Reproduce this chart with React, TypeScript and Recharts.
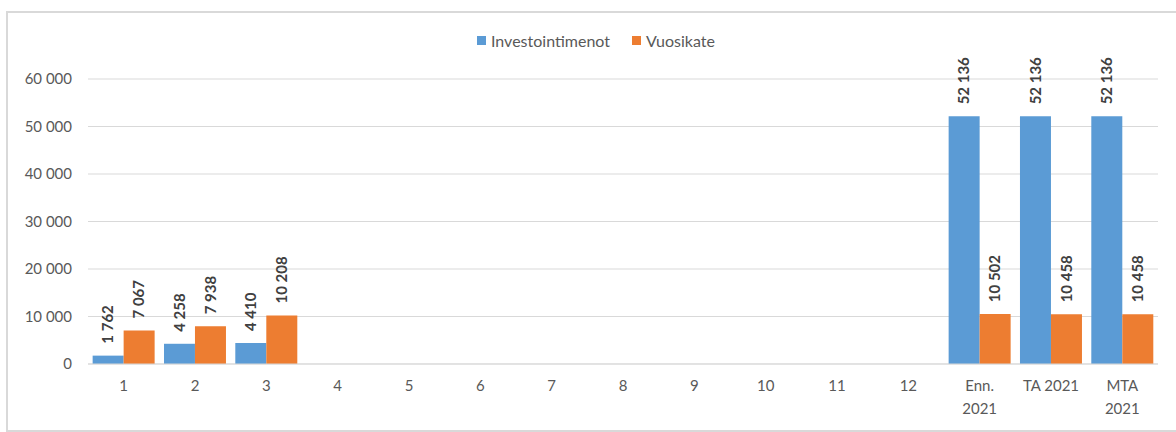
import { BarChart, Bar, XAxis, YAxis, CartesianGrid, Legend, LabelList } from 'recharts';

const categories = ['1', '2', '3', '4', '5', '6', '7', '8', '9', '10', '11', '12', 'Enn. 2021', 'TA 2021', 'MTA 2021'];
const investointimenot = [1762, 4258, 4410, null, null, null, null, null, null, null, null, null, 52136, 52136, 52136];
const vuosikate = [7067, 7938, 10208, null, null, null, null, null, null, null, null, null, 10502, 10458, 10458];
const yTicks = [0, 10000, 20000, 30000, 40000, 50000, 60000];

const data = categories.map((name, i) => ({
  name,
  investointimenot: investointimenot[i],
  vuosikate: vuosikate[i],
}));

const BLUE = '#5B9BD5';
const ORANGE = '#ED7D31';
const FONT = 'Lato, "Open Sans", sans-serif';

const fmt = (v: number) => String(v).replace(/\B(?=(\d{3})+(?!\d))/g, ' ');

const XTick = (props: any) => {
  const { x, y, payload } = props;
  const label: string = payload.value;
  const lines = label === 'TA 2021' ? [label] : label.split(' ');
  return (
    <g>
      {lines.map((l, i) => (
        <text key={i} x={x} y={y + 19 + i * 23} textAnchor="middle" fill="#595959" fontSize={15} fontFamily={FONT}>
          {l}
        </text>
      ))}
    </g>
  );
};

const BarLabel = (props: any) => {
  const { x, y, width, value } = props;
  if (value == null) return null;
  const cx = x + width / 2;
  const ty = y - 12;
  return (
    <text
      x={cx}
      y={ty}
      transform={`rotate(-90, ${cx}, ${ty})`}
      textAnchor="start"
      dy="0.35em"
      fill="#404040"
      fontSize={15}
      fontWeight="bold"
      fontFamily={FONT}
    >
      {fmt(value)}
    </text>
  );
};

const LegendContent = () => (
  <div style={{ display: 'flex', fontFamily: FONT, fontSize: 16, color: '#595959', alignItems: 'center', whiteSpace: 'nowrap' }}>
    <span style={{ width: 9, height: 9, background: BLUE, display: 'inline-block', marginRight: 5 }} />
    <span style={{ marginRight: 22 }}>Investointimenot</span>
    <span style={{ width: 9, height: 9, background: ORANGE, display: 'inline-block', marginRight: 5 }} />
    <span>Vuosikate</span>
  </div>
);

export default function App() {
  return (
    <div style={{ position: 'absolute', left: 0, top: 0, width: 1176, height: 432, background: '#fff' }}>
      <div
        style={{
          position: 'absolute',
          left: 6,
          top: 11,
          width: 1180,
          height: 417,
          border: '2px solid #d9d9d9',
          borderRight: 'none',
        }}
      />
      <BarChart
        width={1176}
        height={432}
        data={data}
        margin={{ top: 79, right: 18, left: 8, bottom: 9 }}
        barGap={0}
        barCategoryGap="6.5%"
      >
        <CartesianGrid vertical={false} stroke="#d9d9d9" />
        <XAxis
          dataKey="name"
          interval={0}
          height={40}
          tickLine={false}
          axisLine={{ stroke: '#d9d9d9' }}
          tick={<XTick />}
        />
        <YAxis
          width={80}
          domain={[0, 60000]}
          ticks={yTicks}
          tickFormatter={fmt}
          tickLine={false}
          axisLine={false}
          tick={{ fill: '#595959', fontSize: 15, fontFamily: FONT, dx: -8 }}
        />
        <Legend
          content={<LegendContent />}
          wrapperStyle={{ position: 'absolute', top: 31, left: 477, width: 'auto' }}
        />
        <Bar dataKey="investointimenot" name="Investointimenot" fill={BLUE} isAnimationActive={false}>
          <LabelList dataKey="investointimenot" content={<BarLabel />} />
        </Bar>
        <Bar dataKey="vuosikate" name="Vuosikate" fill={ORANGE} isAnimationActive={false}>
          <LabelList dataKey="vuosikate" content={<BarLabel />} />
        </Bar>
      </BarChart>
    </div>
  );
}
